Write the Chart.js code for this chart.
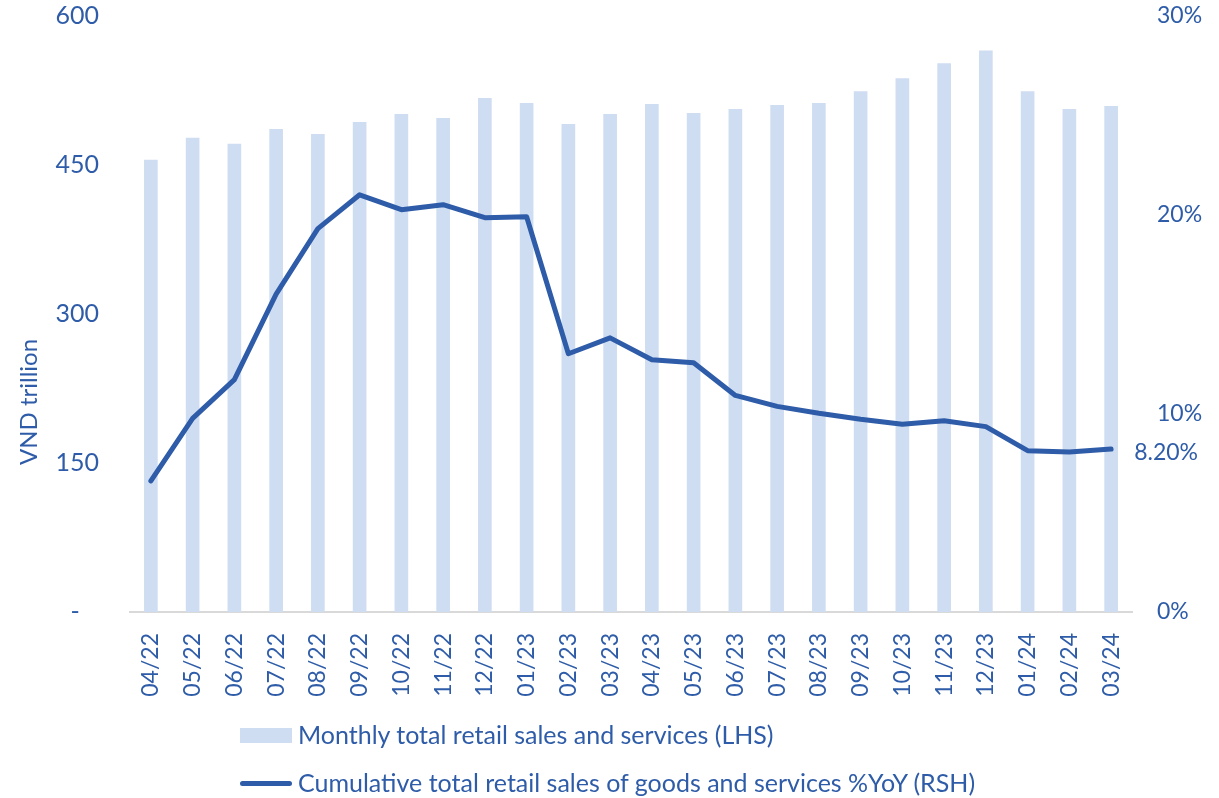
<!DOCTYPE html>
<html>
<head>
<meta charset="utf-8">
<script src="https://cdn.jsdelivr.net/npm/chart.js@4.4.1/dist/chart.umd.min.js"></script>
<style>
  html, body { margin: 0; padding: 0; background: #fff; }
  #wrap { position: relative; width: 1219px; height: 798px; }
  .leg { position: absolute; left: 240px; font-family: Lato, sans-serif; font-size: 25px; color: #2E5CA8; white-space: nowrap; }
  .leg .txt { position: absolute; left: 58px; top: 0; line-height: 30px; }
  .leg .box { position: absolute; left: 0; width: 52px; height: 15px; background: #CFDDF2; }
  .leg .ln { position: absolute; left: 0; width: 52px; height: 5px; border-radius: 3px; background: #2E5CA8; }
</style>
</head>
<body>
<div id="wrap">
  <canvas id="retailChart" width="1219" height="798"></canvas>
  <div class="leg" style="top:719px;">
    <div class="box" style="top:9px;"></div>
    <div class="txt">Monthly total retail sales and services (LHS)</div>
  </div>
  <div class="leg" style="top:767px;">
    <div class="ln" style="top:14px;"></div>
    <div class="txt">Cumulative total retail sales of goods and services %YoY (RSH)</div>
  </div>
</div>
<script>
// Dữ liệu
const months = ['04/22', '05/22', '06/22', '07/22', '08/22', '09/22', '10/22', '11/22', '12/22',
    '01/23', '02/23', '03/23', '04/23', '05/23', '06/23', '07/23', '08/23', '09/23', '10/23',
    '11/23', '12/23', '01/24', '02/24', '03/24'];

// Doanh thu bán lẻ hàng tháng (nghìn tỷ VND)
const monthlySales = [455, 477, 471, 486, 481, 493, 501, 497, 517,
    512, 491, 501, 511, 502, 506, 510, 512, 524, 537,
    552, 565, 524, 506, 509];

// Tăng trưởng lũy kế %YoY
const cumulativeYoY = [6.6, 9.75, 11.7, 16.0, 19.3, 21.0, 20.25, 20.5, 19.85,
    19.9, 13.0, 13.8, 12.7, 12.55, 10.9, 10.35, 10.0, 9.7, 9.45,
    9.63, 9.33, 8.12, 8.05, 8.2];

const leftTicks = [0, 150, 300, 450, 600];
const rightTicks = [0, 10, 20, 30];
const lastLabel = '8.20%';

const TEXT = '#2E5CA8';
const FONT = { family: 'Lato, sans-serif', size: 23 };

// Tiêu đề trục trái và nhãn điểm cuối
const extras = {
    id: 'extras',
    afterDatasetsDraw(chart) {
        const c = chart.ctx;
        c.save();
        c.fillStyle = TEXT;
        c.font = '24px Lato, sans-serif';
        c.textBaseline = 'middle';

        c.save();
        c.translate(29, 402);
        c.rotate(-Math.PI / 2);
        c.textAlign = 'center';
        c.fillText('VND trillion', 0, 0);
        c.restore();

        const meta = chart.getDatasetMeta(1);
        const pt = meta.data[meta.data.length - 1];
        c.font = '23px Lato, sans-serif';
        c.textAlign = 'left';
        c.fillText(lastLabel, pt.x + 23, pt.y + 3);
        c.restore();
    }
};

new Chart(document.getElementById('retailChart'), {
    data: {
        labels: months,
        datasets: [
            {
                type: 'bar',
                label: 'Monthly total retail sales and services (LHS)',
                data: monthlySales,
                yAxisID: 'y',
                backgroundColor: '#CFDDF2',
                barThickness: 13,
                order: 2
            },
            {
                type: 'line',
                label: 'Cumulative total retail sales of goods and services %YoY (RSH)',
                data: cumulativeYoY,
                yAxisID: 'y1',
                borderColor: '#2E5CA8',
                borderWidth: 5,
                borderCapStyle: 'round',
                borderJoinStyle: 'round',
                pointRadius: 0,
                tension: 0,
                order: 1
            }
        ]
    },
    options: {
        responsive: false,
        animation: false,
        layout: { padding: { top: 16, bottom: 0, left: 0, right: 0 } },
        plugins: {
            legend: { display: false },
            tooltip: { enabled: false }
        },
        scales: {
            x: {
                grid: { display: false, drawTicks: false },
                border: { display: true, color: '#D9D9D9', width: 2 },
                ticks: {
                    color: TEXT, font: FONT, padding: 21,
                    minRotation: 90, maxRotation: 90, autoSkip: false
                },
                afterFit(axis) { axis.height = 186; }
            },
            y: {
                position: 'left',
                min: 0, max: 600,
                afterBuildTicks(axis) { axis.ticks = leftTicks.map(v => ({ value: v })); },
                grid: { display: false, drawTicks: false },
                border: { display: false },
                ticks: {
                    color: TEXT, font: { family: 'Lato, sans-serif', size: 25 }, padding: 31,
                    callback: v => v === 0 ? '-   ' : v
                },
                afterFit(axis) { axis.width = 130; axis.paddingTop = 0; axis.paddingBottom = 0; }
            },
            y1: {
                position: 'right',
                min: 0, max: 30,
                afterBuildTicks(axis) { axis.ticks = rightTicks.map(v => ({ value: v })); },
                grid: { display: false, drawTicks: false },
                border: { display: false },
                ticks: {
                    color: TEXT, font: FONT, padding: 25,
                    callback: v => v + '%'
                },
                afterFit(axis) { axis.width = 87; axis.paddingTop = 0; axis.paddingBottom = 0; }
            }
        }
    },
    plugins: [extras]
});
</script>
</body>
</html>
